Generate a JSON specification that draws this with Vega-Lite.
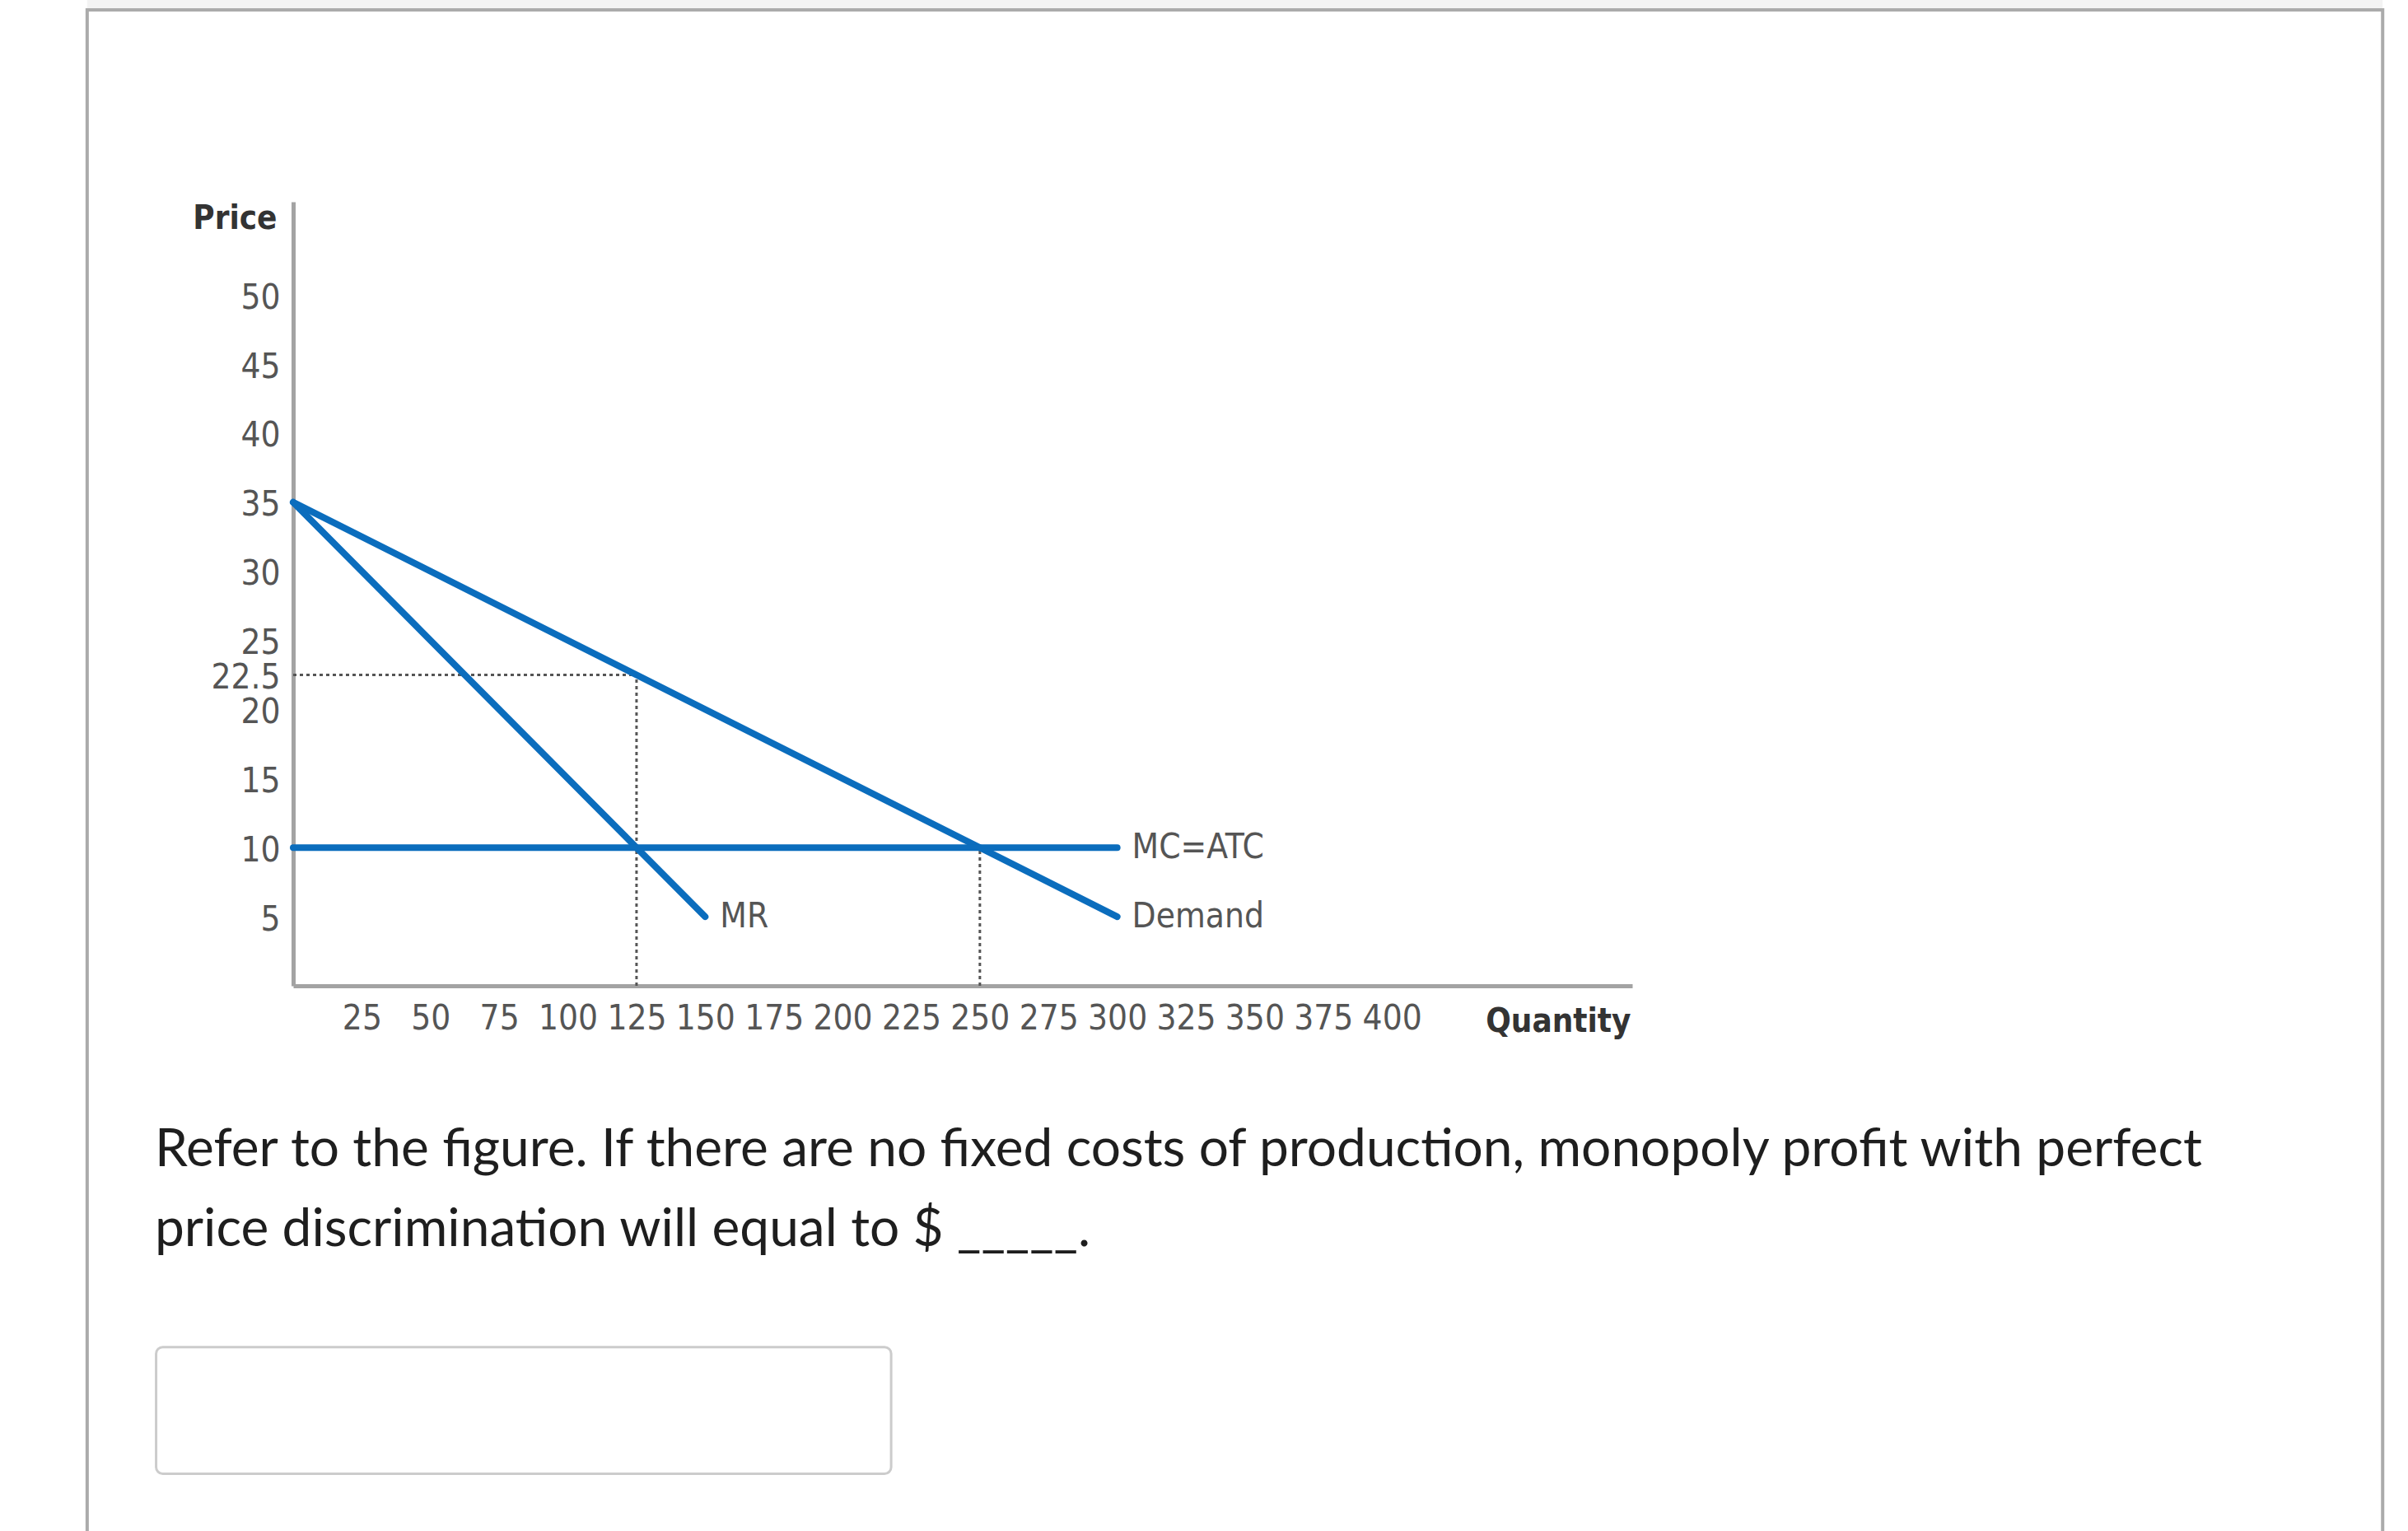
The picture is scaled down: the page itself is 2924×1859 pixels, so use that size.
{
  "$schema": "https://vega.github.io/schema/vega-lite/v6.json",
  "width": 1626,
  "height": 952,
  "autosize": {"type": "none"},
  "padding": {"left": 356, "top": 245, "right": 942, "bottom": 662},
  "background": "#ffffff",
  "datasets": {
    "curves": [
      {"series": "Demand", "q": 0, "p": 35},
      {"series": "Demand", "q": 300, "p": 5},
      {"series": "MR", "q": 0, "p": 35},
      {"series": "MR", "q": 150, "p": 5},
      {"series": "MC=ATC", "q": 0, "p": 10},
      {"series": "MC=ATC", "q": 300, "p": 10}
    ],
    "guides": [
      {"q": 0, "p": 22.5, "q2": 125, "p2": 22.5},
      {"q": 125, "p": 0, "q2": 125, "p2": 22.5},
      {"q": 250, "p": 0, "q2": 250, "p2": 10}
    ],
    "labels": [
      {"label": "MC=ATC", "q": 300, "p": 10},
      {"label": "Demand", "q": 300, "p": 5},
      {"label": "MR", "q": 150, "p": 5}
    ]
  },
  "layer": [
    {
      "data": {"values": [{"part": "header"}]},
      "mark": {"type": "rect", "fill": "#f3f3f3"},
      "encoding": {
        "x": {"datum": -75, "type": "quantitative"},
        "x2": {"datum": 760.7},
        "y": {"datum": 78, "type": "quantitative"},
        "y2": {"datum": 70.64}
      }
    },
    {
      "data": {"values": [{"part": "frame"}]},
      "mark": {"type": "rect", "filled": false, "stroke": "#ababab", "strokeWidth": 4},
      "encoding": {
        "x": {"datum": -75, "type": "quantitative"},
        "x2": {"datum": 760.7},
        "y": {"datum": 70.64, "type": "quantitative"},
        "y2": {"datum": -60}
      }
    },
    {
      "data": {"values": [{"part": "question"}]},
      "mark": {
        "type": "text",
        "align": "left",
        "baseline": "alphabetic",
        "font": "Lato",
        "fontSize": 64,
        "lineHeight": 97,
        "color": "#1e1e1e"
      },
      "encoding": {
        "x": {"datum": -50.4, "type": "quantitative"},
        "y": {"datum": -13.04, "type": "quantitative"},
        "text": {"value": [
          "Refer to the figure. If there are no fixed costs of production, monopoly profit with perfect",
          "price discrimination will equal to $ _____."
        ]}
      }
    },
    {
      "data": {"values": [{"part": "answer box"}]},
      "mark": {"type": "rect", "fill": "#ffffff", "stroke": "#cccccc", "strokeWidth": 3, "cornerRadius": 8},
      "encoding": {
        "x": {"datum": -49.9, "type": "quantitative"},
        "x2": {"datum": 217.7},
        "y": {"datum": -26.15, "type": "quantitative"},
        "y2": {"datum": -35.32}
      }
    },
    {
      "data": {"name": "guides"},
      "mark": {"type": "rule", "color": "#555555", "strokeWidth": 3, "strokeDash": [4, 4]},
      "encoding": {
        "x": {"field": "q", "type": "quantitative"},
        "x2": {"field": "q2"},
        "y": {"field": "p", "type": "quantitative"},
        "y2": {"field": "p2"}
      }
    },
    {
      "data": {"name": "curves"},
      "mark": {"type": "line", "color": "#0b6dbd", "strokeWidth": 8, "strokeCap": "round"},
      "encoding": {
        "x": {
          "field": "q",
          "type": "quantitative",
          "scale": {"domain": [0, 487.5], "nice": false, "zero": false},
          "axis": {
            "title": "Quantity",
            "values": [25, 50, 75, 100, 125, 150, 175, 200, 225, 250, 275, 300, 325, 350, 375, 400],
            "labelPadding": 19,
            "titleX": 1624,
            "titleY": 55,
            "titleAlign": "right",
            "titleBaseline": "alphabetic"
          }
        },
        "y": {
          "field": "p",
          "type": "quantitative",
          "scale": {"domain": [0, 56.75], "nice": false, "zero": false},
          "axis": {
            "title": "Price",
            "values": [5, 10, 15, 20, 22.5, 25, 30, 35, 40, 45, 50],
            "format": ".1~f",
            "labelOffset": 3,
            "titleAngle": 0,
            "titleX": -20,
            "titleY": 32,
            "titleAlign": "right",
            "titleBaseline": "alphabetic"
          }
        },
        "detail": {"field": "series"}
      }
    },
    {
      "data": {"name": "labels"},
      "mark": {
        "type": "text",
        "align": "left",
        "baseline": "middle",
        "dx": 18,
        "font": "'Liberation Sans Narrow', 'DejaVu Sans Condensed', 'Liberation Sans', sans-serif",
        "fontSize": 42,
        "color": "#555555"
      },
      "encoding": {
        "x": {"field": "q", "type": "quantitative"},
        "y": {"field": "p", "type": "quantitative"},
        "text": {"field": "label"}
      }
    }
  ],
  "config": {
    "view": {"stroke": null},
    "axis": {
      "domainColor": "#a3a3a3",
      "domainWidth": 5,
      "ticks": false,
      "grid": false,
      "labelFont": "'Liberation Sans Narrow', 'DejaVu Sans Condensed', 'Liberation Sans', sans-serif",
      "labelFontSize": 42,
      "labelColor": "#555555",
      "labelPadding": 16,
      "labelOverlap": false,
      "labelFlush": false,
      "labelBound": false,
      "titleFont": "'Liberation Sans Narrow', 'DejaVu Sans Condensed', 'Liberation Sans', sans-serif",
      "titleFontSize": 40,
      "titleFontWeight": "bold",
      "titleColor": "#333333"
    }
  }
}
